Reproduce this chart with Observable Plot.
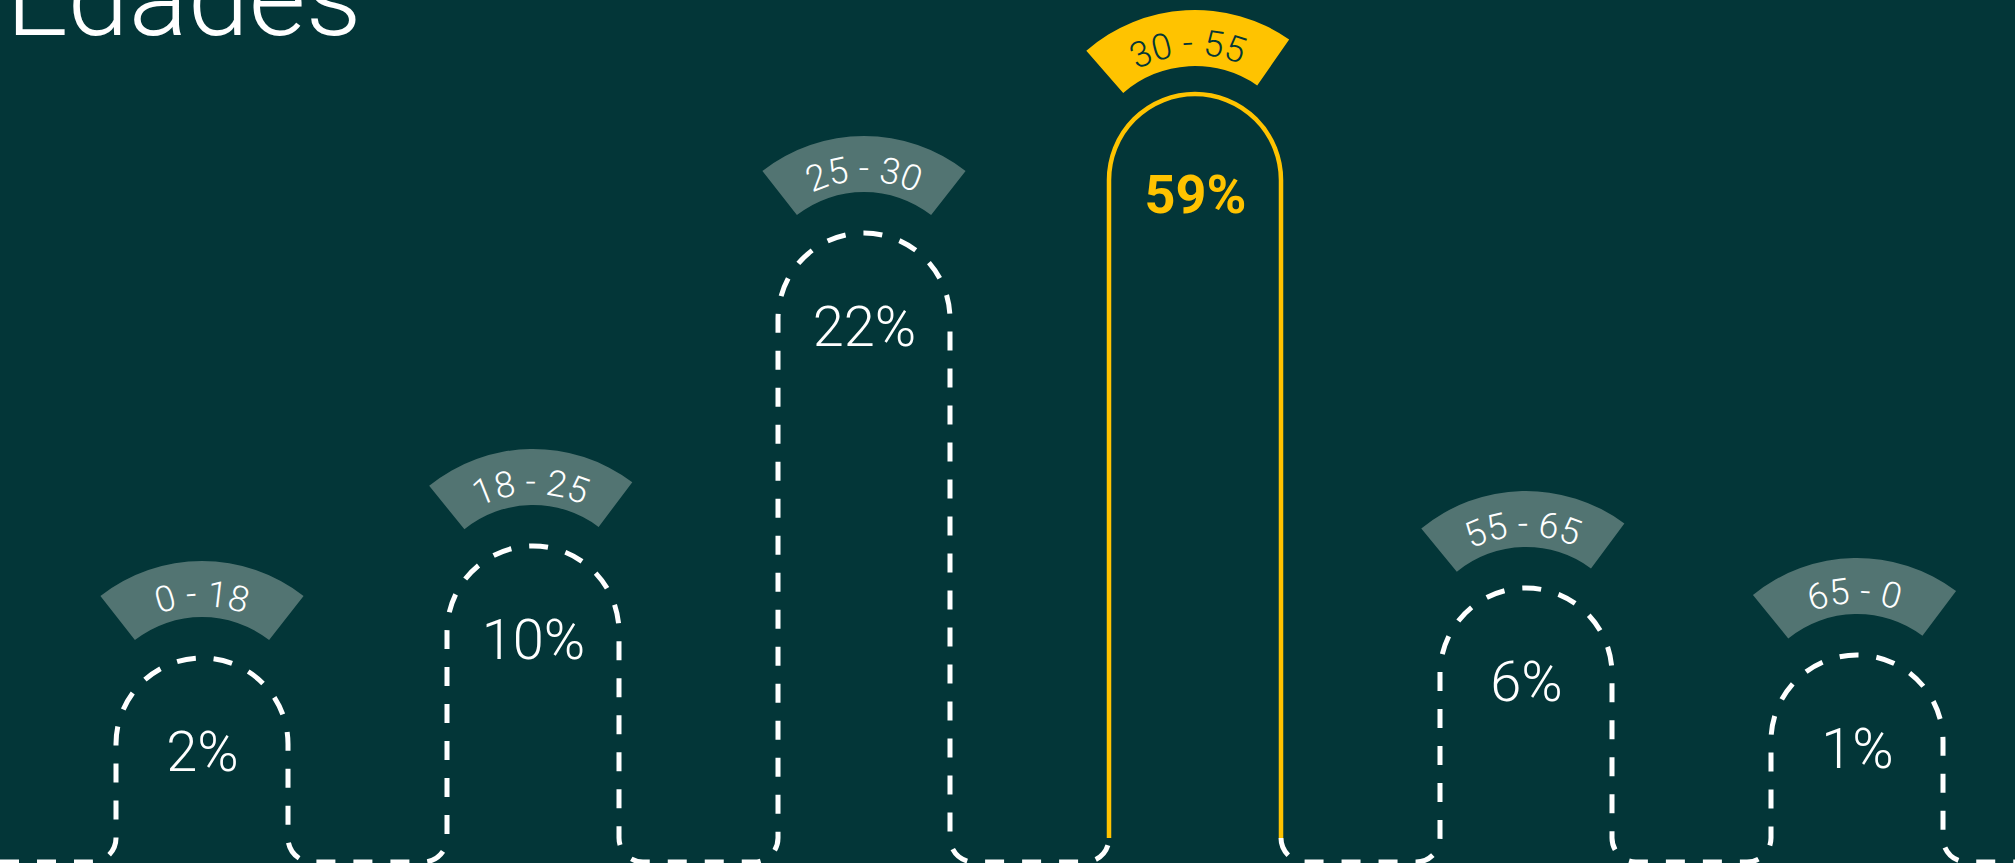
<!DOCTYPE html>
<html><head><meta charset="utf-8">
<script src="https://cdn.jsdelivr.net/npm/d3@7"></script>
<script src="https://cdn.jsdelivr.net/npm/@observablehq/plot@0.6"></script>
<style>
html,body{margin:0;padding:0;background:#033638;overflow:hidden;}
#wrap{position:relative;width:2015px;height:863px;}
#title{position:absolute;left:6px;top:-52px;margin:0;font-family:Roboto,sans-serif;font-weight:300;font-size:110px;line-height:100px;color:#fff;white-space:nowrap;}
#chart{position:absolute;left:0;top:0;}
</style></head><body>
<div id="wrap"><h1 id="title">Edades</h1><div id="chart"></div></div>
<script>
// ---- data ----
const groups = ["0 - 18", "18 - 25", "25 - 30", "30 - 55", "55 - 65", "65 - 0"];
const shares = [2, 10, 22, 59, 6, 1];
const highlight = "30 - 55";
// the arches are not drawn proportionally: visual height (above the baseline) for each share,
// as read from the picture, used as a transform of the y scale
const levelShares = [0, 1, 2, 6, 10, 22, 59];
const levelHeights = [0, 207, 204, 274, 316, 629, 768];

const data = groups.map((g, i) => ({group: g, share: shares[i], hi: g === highlight}));

// ---- style ----
const BG = "#033638", BADGE = "#527472", YELLOW = "#FFC300", WHITE = "#ffffff";
const badgeTilt = [0, -1, 0, -3.2, -1.4, -1.1];
const deg = Math.PI / 180;
const heightOf = d3.scaleLinear(levelShares, levelHeights);

function arches(index, scales, values, dims) {
  const x = scales.x, y = v => scales.y(heightOf(v));
  const bw = x.bandwidth();
  const r = bw / 2, fr = 24, base = y(0);
  const g = d3.create("svg:g");
  let white = `M0,${base}`;
  let yellow = "";
  data.forEach(d => {
    const x0 = x(d.group), x1 = x0 + bw, top = y(d.share);
    white += `L${x0 - fr},${base}A${fr},${fr} 0 0 0 ${x0},${base - fr}`;
    const body = `L${x0},${top + r}A${r},${r} 0 0 1 ${x1},${top + r}L${x1},${base - fr}`;
    if (d.hi) {
      yellow += `M${x0},${base - fr}` + body;
      white += `M${x1},${base - fr}`;
    } else {
      white += body;
    }
    white += `A${fr},${fr} 0 0 0 ${x1 + fr},${base}`;
  });
  white += `L${dims.width},${base}`;
  g.append("path").attr("d", white).attr("fill", "none").attr("stroke", WHITE)
    .attr("stroke-width", 5).attr("stroke-dasharray", "19 18");
  g.append("path").attr("d", yellow).attr("fill", "none").attr("stroke", YELLOW)
    .attr("stroke-width", 4.5);
  return g.node();
}

function badges(index, scales) {
  const x = scales.x, y = v => scales.y(heightOf(v));
  const bw = x.bandwidth();
  const rIn = 109, rOut = 165, rText = 120, half = 38 * deg;
  const arc = d3.arc();
  const g = d3.create("svg:g");
  data.forEach((d, i) => {
    const cx = x(d.group) + bw / 2;
    const top = y(d.share);
    const gap = d.hi ? 28 : 41;
    const cy = top - gap + rIn;
    const gg = g.append("g").attr("transform", `translate(${cx},${cy}) rotate(${badgeTilt[i]})`);
    gg.append("path")
      .attr("d", arc({innerRadius: rIn, outerRadius: rOut, startAngle: -half, endAngle: half}))
      .attr("fill", d.hi ? YELLOW : BADGE);
    const a = 80 * deg;
    const id = `badge-text-path-${i}`;
    gg.append("path").attr("id", id).attr("fill", "none")
      .attr("d", `M${-rText * Math.sin(a)},${-rText * Math.cos(a)}A${rText},${rText} 0 0 1 ${rText * Math.sin(a)},${-rText * Math.cos(a)}`);
    gg.append("text")
      .attr("font-family", "Roboto, sans-serif").attr("font-weight", 300).attr("font-size", 36)
      .attr("fill", d.hi ? BG : WHITE)
      .append("textPath").attr("href", `#${id}`).attr("startOffset", "50%").attr("text-anchor", "middle")
      .text(d.group);
  });
  return g.node();
}

const chart = Plot.plot({
  width: 2015,
  height: 863,
  margin: 0,
  style: {background: "transparent", overflow: "visible"},
  x: {type: "band", domain: groups, range: [34, 2025], paddingInner: 0.48, paddingOuter: 0.24, axis: null},
  y: {type: "linear", transform: heightOf, domain: [0, 862], range: [862, 0], axis: null},
  marks: [
    arches,
    badges,
    Plot.text(data.filter(d => !d.hi), {x: "group", y: "share", text: d => d.share + "%", dy: 95,
      fill: WHITE, fontSize: 56, fontWeight: 300, fontFamily: "Roboto, sans-serif"}),
    Plot.text(data.filter(d => d.hi), {x: "group", y: "share", text: d => d.share + "%", dy: 101,
      fill: YELLOW, fontSize: 54, fontWeight: 700, fontFamily: "Roboto, sans-serif"})
  ]
});
document.getElementById("chart").appendChild(chart);
</script>
</body></html>
